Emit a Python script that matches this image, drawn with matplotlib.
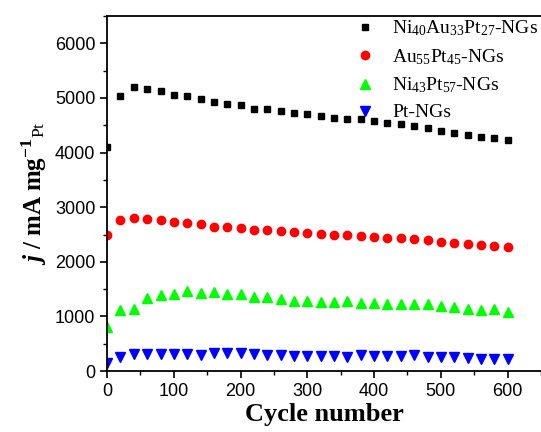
import numpy as np
import matplotlib
matplotlib.use("Agg")
import matplotlib.pyplot as plt

# número de ciclo y densidad de corriente (mA mg-1 Pt)
ciclos = np.arange(0, 601, 20)

ni_au_pt = [4100, 5033, 5198, 5155, 5125, 5051, 5033, 4985, 4931, 4887, 4863,
            4790, 4790, 4753, 4717, 4698, 4662, 4638, 4620, 4610, 4575, 4540,
            4516, 4479, 4448, 4393, 4357, 4314, 4283, 4260, 4230]
au_pt = [2499, 2773, 2810, 2779, 2760, 2724, 2718, 2687, 2645, 2633, 2620,
         2578, 2578, 2565, 2541, 2535, 2510, 2499, 2486, 2480, 2462, 2444,
         2431, 2413, 2395, 2358, 2346, 2322, 2303, 2285, 2272]
ni_pt = [799, 1115, 1133, 1340, 1389, 1408, 1468, 1426, 1444, 1420, 1402,
         1347, 1347, 1322, 1292, 1285, 1267, 1264, 1275, 1252, 1243, 1237,
         1237, 1237, 1219, 1183, 1164, 1139, 1115, 1133, 1084]
pt = [141, 261, 305, 311, 311, 311, 305, 298, 329, 323, 323,
      317, 287, 292, 280, 280, 280, 274, 252, 287, 274, 270,
      274, 287, 256, 256, 250, 243, 225, 225, 213]

etiquetas = [r'Ni$_{40}$Au$_{33}$Pt$_{27}$-NGs',
             r'Au$_{55}$Pt$_{45}$-NGs',
             r'Ni$_{43}$Pt$_{57}$-NGs',
             r'Pt-NGs']

plt.rcParams['mathtext.fontset'] = 'custom'
plt.rcParams['mathtext.rm'] = 'Liberation Serif'
plt.rcParams['mathtext.it'] = 'Liberation Serif:italic'
plt.rcParams['mathtext.bf'] = 'Liberation Serif:bold'
plt.rcParams['mathtext.bfit'] = 'Liberation Serif:italic:bold'

fig = plt.figure(figsize=(5.41, 4.32), dpi=100)
ax = fig.add_axes([0.198, 0.141, 0.802, 0.822])

ax.plot(ciclos, ni_au_pt, 's', color='black', ms=5, label=etiquetas[0])
ax.plot(ciclos, au_pt, 'o', color='#ff0000', ms=6, label=etiquetas[1])
ax.plot(ciclos, ni_pt, '^', color='#00ff00', ms=7, label=etiquetas[2])
ax.plot(ciclos, pt, 'v', color='#0000ff', ms=7, label=etiquetas[3])

ax.set_xlim(0, 650)
ax.set_ylim(0, 6500)
ax.set_xticks(range(0, 601, 100))
ax.set_xticks(range(0, 651, 50), minor=True)
ax.set_yticks(range(0, 6001, 1000))
ax.set_yticks(range(0, 6501, 500), minor=True)
ax.spines['right'].set_visible(False)
for s in ['left', 'bottom', 'top']:
    ax.spines[s].set_linewidth(1.3)
ax.tick_params(which='major', direction='out', length=5, width=1.2,
               labelsize=13, top=False, right=False)
ax.tick_params(which='minor', direction='out', length=3, width=1.0,
               top=False, right=False)
for lab in ax.get_xticklabels() + ax.get_yticklabels():
    lab.set_fontfamily('Liberation Sans')

ax.set_xlabel('Cycle number', fontsize=19, fontweight='bold',
              fontfamily='Liberation Serif', labelpad=2)
ax.set_ylabel(r'$\mathbfit{j}$$\mathbf{\ /\ mA\ mg}^{\mathbf{-1}}$$_{\mathrm{Pt}}$',
              fontsize=18, labelpad=4)

leg = ax.legend(loc='upper left', bbox_to_anchor=(0.55, 1.015), frameon=False,
                prop={'family': 'Liberation Serif', 'size': 14},
                handletextpad=0.8, labelspacing=0.45, borderaxespad=0,
                handlelength=1.2)

fig.savefig('out.png', dpi=100)
